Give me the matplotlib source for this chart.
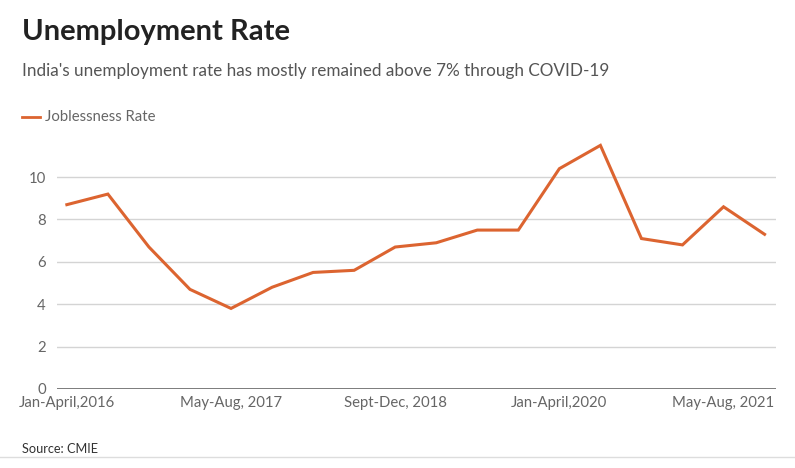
import matplotlib.pyplot as plt
from matplotlib.lines import Line2D

plt.rcParams['font.family'] = ['Lato', 'DejaVu Sans']

periods = ['Jan-April,2016', 'May-Aug, 2016', 'Sept-Dec, 2016',
           'Jan-April,2017', 'May-Aug, 2017', 'Sept-Dec, 2017',
           'Jan-April,2018', 'May-Aug, 2018', 'Sept-Dec, 2018',
           'Jan-April,2019', 'May-Aug, 2019', 'Sept-Dec, 2019',
           'Jan-April,2020', 'May-Aug, 2020', 'Sept-Dec, 2020',
           'Jan-April,2021', 'May-Aug, 2021', 'Sept-Dec, 2021']
jobless = [8.7, 9.2, 6.7, 4.7, 3.8, 4.8, 5.5, 5.6, 6.7,
           6.9, 7.5, 7.5, 10.4, 11.5, 7.1, 6.8, 8.6, 7.3]
shown_labels = ['Jan-April,2016', 'May-Aug, 2017', 'Sept-Dec, 2018',
                'Jan-April,2020', 'May-Aug, 2021']
y_ticks = [0, 2, 4, 6, 8, 10]

orange = '#dc6430'
grey_txt = '#666666'

fig = plt.figure(figsize=(7.95, 4.68), dpi=100)
ax = fig.add_axes([0.0717, 0.169, 0.905, 0.543])

x = list(range(len(periods)))
ax.plot(x, jobless, color=orange, lw=2.2, solid_joinstyle='miter', zorder=3)

ax.set_xlim(-0.24, len(periods) - 1 + 0.29)
ax.set_ylim(0, 12)
ax.set_yticks(y_ticks)
ax.set_yticklabels([str(v) for v in y_ticks])
ax.set_xticks([periods.index(p) for p in shown_labels])
ax.set_xticklabels(shown_labels)

for v in y_ticks[1:]:
    ax.axhline(v, color='#d4d4d4', lw=1, zorder=1)
ax.axhline(0, color='#555555', lw=1.8, zorder=2)

for s in ax.spines.values():
    s.set_visible(False)
ax.tick_params(axis='both', length=0, labelsize=10.7, colors=grey_txt)
ax.tick_params(axis='y', pad=8)
ax.tick_params(axis='x', pad=5)

fig.text(0.028, 0.915, 'Unemployment Rate', fontsize=21, fontweight='bold',
         color='#222222', va='baseline')
fig.text(0.028, 0.838, "India's unemployment rate has mostly remained above 7% through COVID-19",
         fontsize=12.3, color='#555555', va='baseline')

fig.add_artist(Line2D([0.028, 0.050], [0.75, 0.75], color=orange, lw=2,
                      transform=fig.transFigure))
fig.text(0.057, 0.75, 'Joblessness Rate', fontsize=10.7, color=grey_txt, va='center')

fig.text(0.028, 0.033, 'Source: CMIE', fontsize=9.2, color='#333333', va='baseline')
fig.add_artist(Line2D([0.0, 1.0], [0.023, 0.023], color='#dddddd', lw=1,
                      transform=fig.transFigure))

fig.savefig('out.png', dpi=100, facecolor='white')
